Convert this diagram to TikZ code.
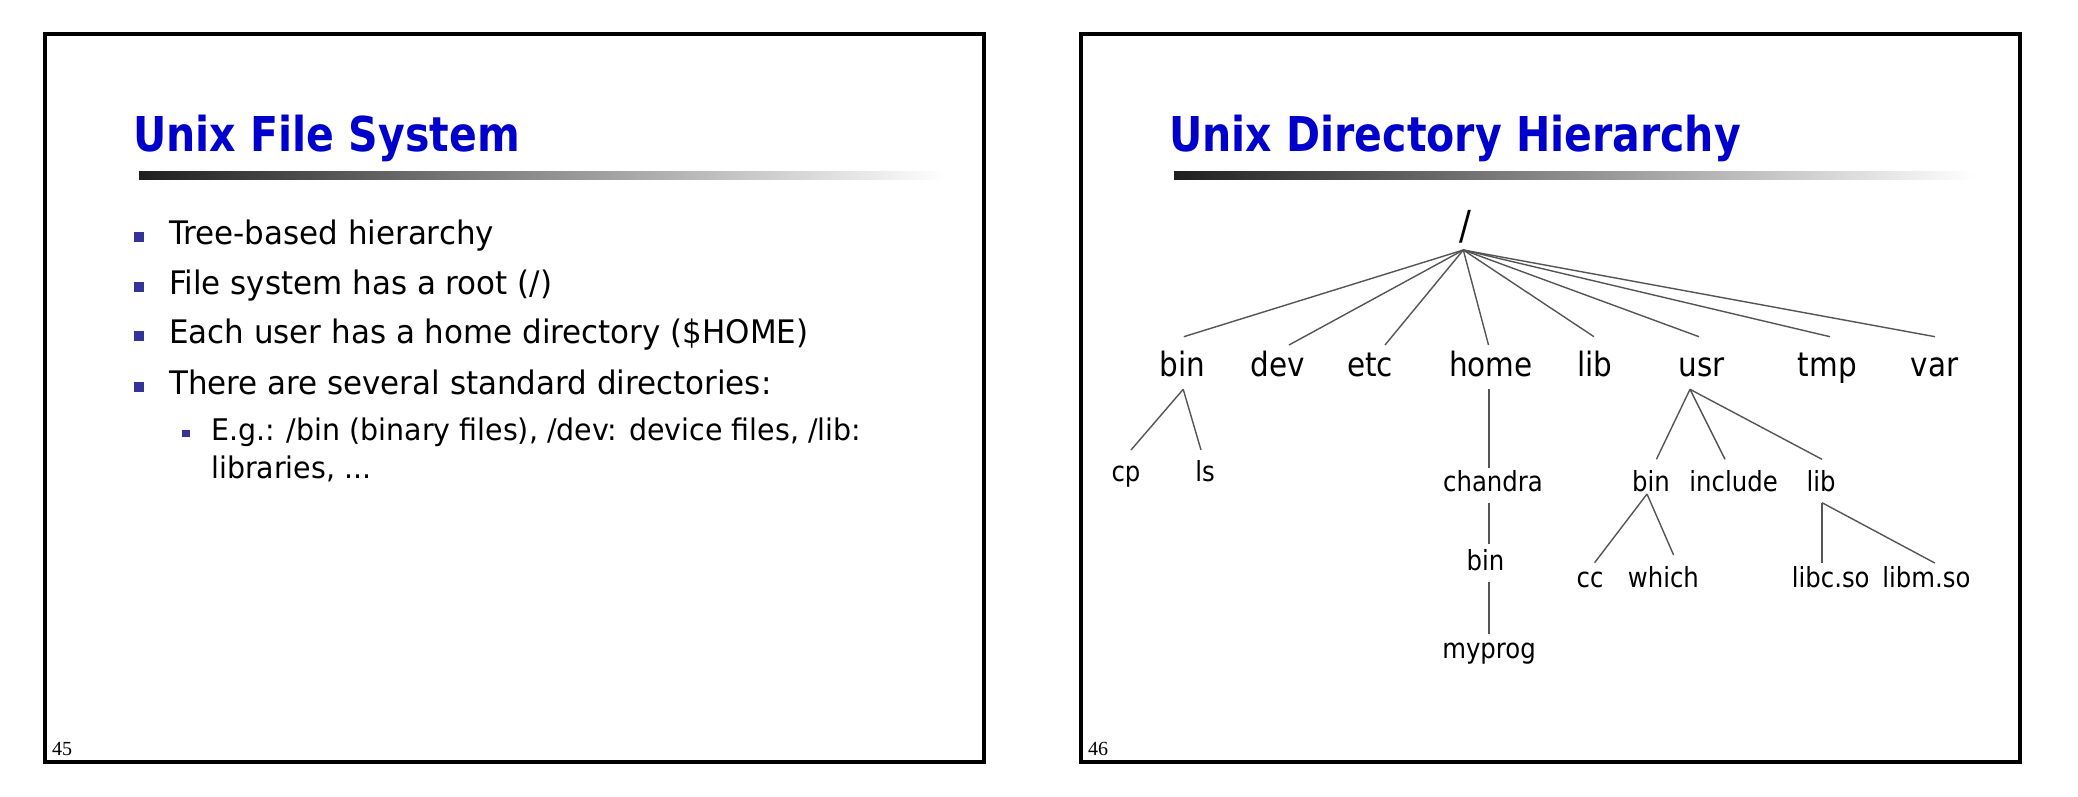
\documentclass[tikz,border=0pt]{standalone}
\usepackage{fontspec}
\setmainfont{DejaVu Sans}
\newfontfamily\titlefont{DejaVu Sans}[FakeStretch=0.855]
\newfontfamily\bodyfont{DejaVu Sans}[FakeStretch=0.955]
\newfontfamily\treefont{DejaVu Sans}[FakeStretch=0.88]
\newfontfamily\numfont{Liberation Serif}
\definecolor{titleblue}{RGB}{0,0,204}
\definecolor{bulblue}{RGB}{51,51,153}
\definecolor{edgegray}{RGB}{85,85,85}
\begin{document}
\begin{tikzpicture}[x=1pt,y=-1pt,
  frame/.style={line width=4pt, draw=black},
  ttl/.style={anchor=base west, inner sep=0, text=titleblue, font=\titlefont\bfseries\fontsize{48}{48}\selectfont},
  body/.style={anchor=base west, inner sep=0, font=\bodyfont\fontsize{32.4}{36}\selectfont},
  subt/.style={anchor=base west, inner sep=0, font=\bodyfont\fontsize{29.8}{34}\selectfont},
  bul/.style={fill=bulblue, minimum size=10pt, inner sep=0, outer sep=0},
  sbul/.style={fill=bulblue, minimum size=7.5pt, inner sep=0, outer sep=0},
  lone/.style={anchor=base, inner sep=0, font=\treefont\fontsize{33.5}{36}\selectfont},
  ltwo/.style={anchor=base, inner sep=0, font=\treefont\fontsize{27.7}{30}\selectfont},
  edge/.style={draw=edgegray, line width=1.4pt},
  pnum/.style={anchor=base west, inner sep=0, font=\numfont\fontsize{20}{20}\selectfont}
]
\useasboundingbox (0,0) rectangle (2078,796);
\fill[white] (0,0) rectangle (2078,796);

% ---------- left slide ----------
\draw[frame] (45,33.5) rectangle (984,761.5);
\node[ttl] (t1) at (133,151.7) {Unix File System};
\shade[left color=black!88, right color=white] (139,171) rectangle (945,179);

\node[bul] (b1) at (139,237) {};
\node[body] (l1) at (169,244.3) {Tree-based hierarchy};
\node[bul] (b2) at (139,287) {};
\node[body] (l2) at (169,294.3) {File system has a root (/)};
\node[bul] (b3) at (139,336) {};
\node[body] (l3) at (169,343.3) {Each user has a home directory (\$HOME)};
\node[bul] (b4) at (139,387) {};
\node[body] (l4) at (169,394.3) {There are several standard directories:};
\node[sbul] (b5) at (186,433.5) {};
\node[subt] (l5) at (211,440.7) {E.g.: /bin (binary files), /dev: device files, /lib:};
\node[subt] (l6) at (211,478.3) {libraries, ...};
\node[pnum] (n45) at (52,755) {45};

% ---------- right slide ----------
\draw[frame] (1081,33.5) rectangle (2020,761.5);
\node[ttl] (t2) at (1169,151.7) {Unix Directory Hierarchy};
\shade[left color=black!88, right color=white] (1174,171) rectangle (1975,179);
\node[pnum] (n46) at (1088,755) {46};

% tree nodes
\node[lone, font=\treefont\fontsize{40}{40}\selectfont] (root) at (1465,239.3) {/};
\coordinate (apex) at ([xshift=-1.7pt,yshift=-10.7pt]root.base);

\node[lone] (bin)  at (1182.5,376) {bin};
\node[lone] (dev)  at (1277.5,376) {dev};
\node[lone] (etc)  at (1370,376) {etc};
\node[lone] (home) at (1491,376) {home};
\node[lone] (lib)  at (1594.6,376) {lib};
\node[lone] (usr)  at (1701.6,376) {usr};
\node[lone] (tmp)  at (1827.4,376) {tmp};
\node[lone] (var)  at (1934.6,376) {var};

\node[ltwo] (cp)      at (1126,481) {cp};
\node[ltwo] (ls)      at (1205,481) {ls};
\node[ltwo] (chandra) at (1493,491) {chandra};
\node[ltwo] (hbin)    at (1485.5,570.7) {bin};
\node[ltwo] (myprog)  at (1489,658) {myprog};
\node[ltwo] (ubin)    at (1651,491) {bin};
\node[ltwo] (incl)    at (1733.6,491) {include};
\node[ltwo] (ulib)    at (1821,491) {lib};
\node[ltwo] (cc)      at (1590,587) {cc};
\node[ltwo] (which)   at (1663.4,587) {which};
\node[ltwo] (libc)    at (1830.7,587) {libc.so};
\node[ltwo] (libm)    at (1926.4,587) {libm.so};

% edges from root
\draw[edge] (apex) -- ([xshift=1.3pt,yshift=39.3pt]bin.base);
\draw[edge] (apex) -- ([xshift=11.5pt,yshift=31pt]dev.base);
\draw[edge] (apex) -- ([xshift=15pt,yshift=31pt]etc.base);
\draw[edge] (apex) -- ([xshift=-2.5pt,yshift=31pt]home.base);
\draw[edge] (apex) -- ([xshift=-0.6pt,yshift=39.3pt]lib.base);
\draw[edge] (apex) -- ([xshift=-2.6pt,yshift=39.3pt]usr.base);
\draw[edge] (apex) -- ([xshift=2.6pt,yshift=39.3pt]tmp.base);
\draw[edge] (apex) -- ([xshift=0.4pt,yshift=39.3pt]var.base);

% bin children
\draw[edge] ([xshift=0.7pt,yshift=-13.3pt]bin.base) -- ([xshift=5pt,yshift=31pt]cp.base);
\draw[edge] ([xshift=0.7pt,yshift=-13.3pt]bin.base) -- ([xshift=-4pt,yshift=31pt]ls.base);

% home chain
\draw[edge] ([xshift=-2pt,yshift=-13pt]home.base) -- ([xshift=-4pt,yshift=23pt]chandra.base);
\draw[edge] ([xshift=-4pt,yshift=-11.7pt]chandra.base) -- ([xshift=3.5pt,yshift=26.7pt]hbin.base);
\draw[edge] ([xshift=3.5pt,yshift=-11pt]hbin.base) -- ([xshift=0pt,yshift=24pt]myprog.base);

% usr children
\draw[edge] ([xshift=-11.6pt,yshift=-13.3pt]usr.base) -- ([xshift=5.4pt,yshift=31.7pt]ubin.base);
\draw[edge] ([xshift=-11.6pt,yshift=-13.3pt]usr.base) -- ([xshift=-8.6pt,yshift=31.7pt]incl.base);
\draw[edge] ([xshift=-11.6pt,yshift=-13.3pt]usr.base) -- ([xshift=1pt,yshift=31.7pt]ulib.base);

% usr/bin children
\draw[edge] ([xshift=-4pt,yshift=-3pt]ubin.base) -- ([xshift=4.6pt,yshift=24.3pt]cc.base);
\draw[edge] ([xshift=-4pt,yshift=-3pt]ubin.base) -- ([xshift=10.2pt,yshift=32pt]which.base);

% usr/lib children
\draw[edge] ([xshift=1pt,yshift=-11.7pt]ulib.base) -- ([xshift=-8.7pt,yshift=24pt]libc.base);
\draw[edge] ([xshift=1pt,yshift=-11.7pt]ulib.base) -- ([xshift=8.4pt,yshift=24pt]libm.base);
\end{tikzpicture}
\end{document}
